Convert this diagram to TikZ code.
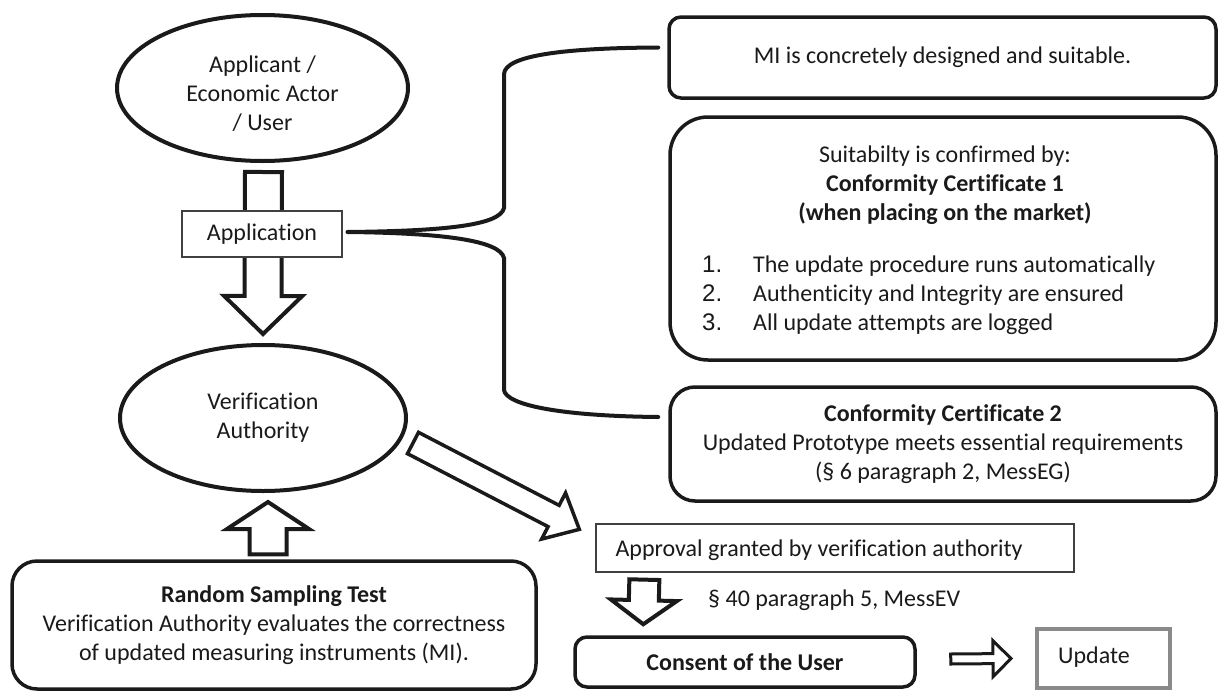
\documentclass[tikz,border=0pt]{standalone}
\usepackage{fontspec}
\setmainfont{Carlito}[Ligatures=NoCommon]
\newfontfamily\arialf{Liberation Sans}
\usetikzlibrary{calc,shapes.geometric}
\definecolor{ink}{HTML}{1A1A1A}
\definecolor{thinline}{HTML}{404040}
\definecolor{updgray}{HTML}{8A8A8A}
\begin{document}
\begin{tikzpicture}[x=1pt,y=-1pt,
  every node/.style={font=\fontsize{24}{29}\selectfont, inner sep=0pt, text=ink},
  oval/.style={ellipse, draw=ink, line width=4pt, fill=white},
  rbox/.style={draw=ink, line width=3.5pt, rounded corners=#1, fill=white},
  thinbox/.style={draw=thinline, line width=1.3pt, fill=white},
  barrow/.style n args={3}{draw=ink, line width=4pt, fill=white, line join=miter,
    to path={
      ($(\tikztostart)!#1!90:(\tikztotarget)$)
      -- ($(\tikztotarget)!#3!(\tikztostart)!#1!-90:(\tikztostart)$)
      -- ($(\tikztotarget)!#3!(\tikztostart)!#2!-90:(\tikztostart)$)
      -- (\tikztotarget)
      -- ($(\tikztotarget)!#3!(\tikztostart)!#2!90:(\tikztostart)$)
      -- ($(\tikztotarget)!#3!(\tikztostart)!#1!90:(\tikztostart)$)
      -- ($(\tikztostart)!#1!-90:(\tikztotarget)$)
      -- cycle}},
  brace/.style={draw=ink, line width=4pt, line cap=round},
]
\useasboundingbox (0,0) rectangle (1219,691);

% ellipses
\node[oval, minimum width=291pt, minimum height=146pt] (appl) at (262.5,88) {};
\node[align=center] (applt) at (262.5,94) {Applicant /\\Economic Actor\\/ User};
\node[oval, minimum width=286pt, minimum height=146pt, align=center] (ver) at (263,418) {Verification\\Authority};

% right boxes
\node[rbox=12pt, minimum width=547pt, minimum height=81pt] (mi) at (942.5,57.5) {MI is concretely designed and suitable.};
\node[rbox=38pt, minimum width=546pt, minimum height=243pt] (c1) at (943,238.5) {};
\node[align=center] (c1t) at (945,185) {Suitabilty is confirmed by:\\\textbf{Conformity Certificate 1}\\\textbf{(when placing on the market)}};
\node[align=left, anchor=west] (c1l) at (702,295) {\makebox[51pt][l]{\arialf 1.}The update procedure runs automatically\\\makebox[51pt][l]{\arialf 2.}Authenticity and Integrity are ensured\\\makebox[51pt][l]{\arialf 3.}All update attempts are logged};
\node[rbox=25pt, minimum width=546pt, minimum height=114pt, align=center] (c2) at (943,444) {\textbf{Conformity Certificate 2}\\Updated Prototype meets essential requirements\\(\S\ 6 paragraph 2, MessEG)};

% bottom boxes
\node[rbox=25pt, minimum width=524pt, minimum height=128pt, align=center] (rnd) at (274,625) {\textbf{Random Sampling Test}\\Verification Authority evaluates the correctness\\of updated measuring instruments (MI).};
\node[thinbox, minimum width=478pt, minimum height=48pt] (apr) at (835,548) {};
\node[anchor=west] (aprt) at ($(apr.west)+(20,2)$) {Approval granted by verification authority};
\node[anchor=west] (par) at (708,600) {\S\ 40 paragraph 5, MessEV};
\node[rbox=12pt, minimum width=340pt, minimum height=50pt] (con) at (745,662) {\textbf{Consent of the User}};
\node[draw=updgray, line width=4pt, fill=white, minimum width=133pt, minimum height=59pt] (upd) at (1103.5,658.5) {};
\node[anchor=west] (updt) at ($(upd.west)+(23,-1)$) {Update};

% block arrows
\coordinate (a1s) at ($(appl.south)+(1,9)$);
\coordinate (a1e) at ($(ver.north)+(0,-9)$);
\draw[barrow={18.5pt}{39pt}{38pt}] (a1s) to (a1e);
\node[thinbox, minimum width=160pt, minimum height=46pt] (apb) at (262,234) {Application};

\coordinate (r1s) at ($(rnd.north)+(-6,-5)$);
\coordinate (r1e) at ($(ver.south)+(5,9)$);
\draw[barrow={18.5pt}{41pt}{27pt}] (r1s) to (r1e);

\coordinate (d1s) at ($(ver.east)+(5,25)$);
\coordinate (d1e) at ($(apr.north west)+(-16,6)$);
\draw[barrow={12pt}{26pt}{29pt}, line width=3.5pt] (d1s) to (d1e);

\coordinate (a2s) at ($(apr.south west)+(49,7)$);
\coordinate (a2e) at ($(con.north west)+(70,-11)$);
\draw[barrow={15pt}{33pt}{24pt}] (a2s) to (a2e);

\coordinate (r2s) at ($(con.east)+(34,-3)$);
\coordinate (r2e) at ($(upd.west)+(-24,0)$);
\draw[barrow={5pt}{18pt}{18pt}, line width=3pt] (r2s) to (r2e);

% brace connector
\coordinate (bs) at ($(apb.east)+(5,-2)$);
\coordinate (be1) at ($(mi.west)+(-9,-10)$);
\coordinate (be2) at ($(c2.west)+(-10,-27)$);
\draw[brace] (bs) .. controls (440,231) and (500,226) .. (504,208) -- (504,74) .. controls (505,56) and (560,48) .. (be1);
\draw[brace] (bs) .. controls (440,233) and (500,240) .. (504,258) -- (504,390) .. controls (506,405) and (560,416) .. (be2);
\end{tikzpicture}
\end{document}
